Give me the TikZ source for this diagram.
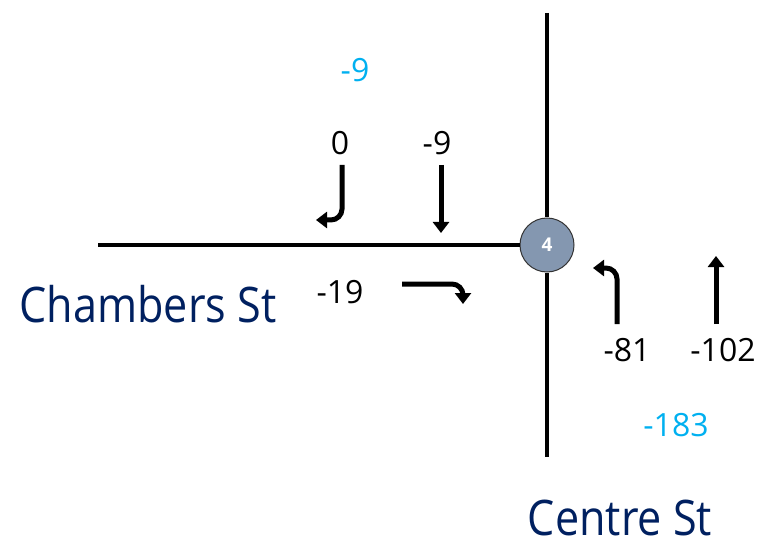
\documentclass[tikz,border=0pt]{standalone}
\usepackage{fontspec}
\setmainfont{Open Sans}
\usetikzlibrary{arrows.meta}
\definecolor{navy}{HTML}{002060}
\definecolor{lblue}{HTML}{00B0F0}
\definecolor{slate}{HTML}{8497B0}
\begin{document}
\begin{tikzpicture}[x=1pt,y=-1pt,
  road/.style={line width=4pt,black},
  mvt/.style={line width=5pt,black,-{Triangle[length=11pt,width=16pt]}},
  cnt/.style={font=\fontsize{32}{34}\selectfont,text=black,inner sep=0pt},
  tot/.style={font=\fontsize{32}{34}\selectfont,text=lblue,inner sep=0pt},
  street/.style={font=\addfontfeatures{FakeStretch=0.88}\fontsize{49}{51}\selectfont,text=navy,inner sep=0pt}]
\useasboundingbox (0,0) rectangle (771,548);
\node[circle,draw=black!80,line width=1pt,fill=slate,minimum size=54pt,inner sep=0pt,
  text=white,font=\bfseries\fontsize{19}{21}\selectfont] (int) at (547,245) {4};
\coordinate (wend) at (98,245);
\coordinate (ntop) at (547,13);
\coordinate (sbot) at (547,457);
\draw[road] (wend) -- (int.west);
\draw[road] (ntop) -- (int.north);
\draw[road] (int.south) -- (sbot);
% labels
\node[tot] (tn) at (355,70) {-9};
\node[cnt] (sl) at (340,143) {0};
\node[cnt] (st) at (437,143) {-9};
\node[cnt] (er) at (340,292) {-19};
\node[cnt] (nl) at (627,350) {-81};
\node[cnt] (nt) at (723,350) {-102};
\node[tot] (ts) at (676,425) {-183};
\node[street] (chambers) at (148,304) {Chambers St};
\node[street] (centre) at (620,518) {Centre St};
% movement arrows
\coordinate (a1) at (342,165); \coordinate (a1c) at (342,220); \coordinate (a1e) at (316,220);
\draw[mvt,rounded corners=11pt] (a1) -- (a1c) -- (a1e);
\coordinate (a2) at (441,165); \coordinate (a2e) at (441,233);
\draw[mvt] (a2) -- (a2e);
\coordinate (a3) at (402,284); \coordinate (a3c) at (463,284); \coordinate (a3e) at (463,304);
\draw[mvt,rounded corners=11pt] (a3) -- (a3c) -- (a3e);
\coordinate (a4) at (617,324); \coordinate (a4c) at (617,268); \coordinate (a4e) at (593,268);
\draw[mvt,rounded corners=11pt] (a4) -- (a4c) -- (a4e);
\coordinate (a5) at (716,324); \coordinate (a5e) at (716,256);
\draw[mvt] (a5) -- (a5e);
\end{tikzpicture}
\end{document}
